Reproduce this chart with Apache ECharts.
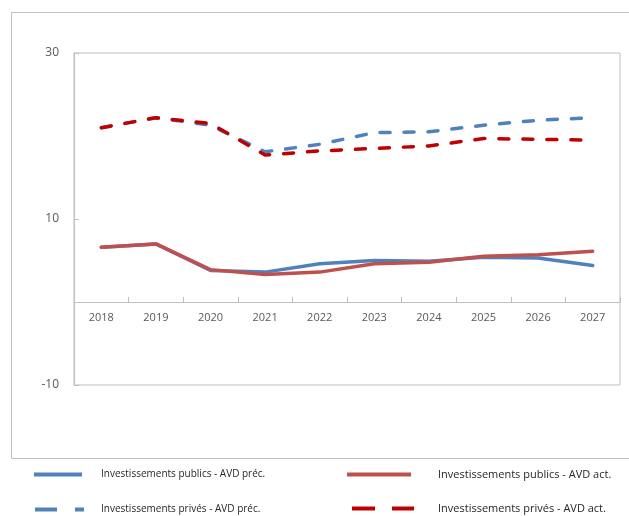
<!DOCTYPE html>
<html>
<head>
<meta charset="utf-8">
<script src="https://cdn.jsdelivr.net/npm/echarts@6/dist/echarts.min.js"></script>
<style>
  html, body { margin: 0; padding: 0; background: #fff; }
  #chart { width: 629px; height: 516px; }
</style>
</head>
<body>
<div id="chart"></div>
<script>
// Years on the horizontal axis
const years = ['2018', '2019', '2020', '2021', '2022', '2023', '2024', '2025', '2026', '2027'];

// Public investment, previous and current assessment
const publicPrev = [6.6, 7.0, 3.8, 3.6, 4.6, 5.0, 4.9, 5.4, 5.3, 4.4];
const publicCurr = [6.6, 7.0, 3.9, 3.3, 3.6, 4.6, 4.8, 5.5, 5.7, 6.1];

// Private investment, previous and current assessment
const privatePrev = [21.0, 22.2, 21.3, 18.1, 19.0, 20.4, 20.5, 21.3, 21.9, 22.2];
const privateCurr = [21.0, 22.2, 21.5, 17.7, 18.2, 18.5, 18.8, 19.7, 19.6, 19.5];

// Value axis range and step
const yMin = -10, yMax = 30, yStep = 20;

// Series names shown in the legend
const names = [
  'Investissements publics - AVD préc.',
  'Investissements privés - AVD préc.',
  'Investissements publics - AVD act.',
  'Investissements privés - AVD act.'
];

const BLUE = '#4F81BD';
const RED = '#C0504D';
const DARK_RED = '#C00000';
const GREY = '#BFBFBF';
const FONT = '"Open Sans", "Noto Sans", sans-serif';

const GRID = { left: 74, right: 9, top: 53, bottom: 131 };
const plotHeight = 516 - GRID.top - GRID.bottom;
// Category axis sits on the zero line of the value axis
const zeroShift = plotHeight * (0 - yMin) / (yMax - yMin);

const chart = echarts.init(document.getElementById('chart'), null, { renderer: 'canvas' });

function legendAt(name, left, top, width, fontSize, pad, dash) {
  const line = { width: 4, cap: 'butt' };
  if (dash) line.type = dash;
  return {
    data: [name],
    left: left,
    top: top,
    padding: 0,
    orient: 'horizontal',
    itemWidth: width,
    itemHeight: 14,
    selectedMode: false,
    itemStyle: { opacity: 0, borderWidth: 0 },
    lineStyle: line,
    textStyle: {
      fontFamily: FONT,
      fontSize: fontSize,
      color: '#262626',
      padding: [0, 0, 0, pad]
    }
  };
}

chart.setOption({
  animation: false,
  backgroundColor: '#fff',
  graphic: [{
    type: 'rect',
    shape: { x: 11.5, y: 12.5, width: 640, height: 446 },
    style: { fill: 'none', stroke: GREY, lineWidth: 1 },
    silent: true
  }],
  grid: Object.assign({ show: true, borderColor: GREY, borderWidth: 1 }, GRID),
  legend: [
    legendAt(names[0], 32, 469, 48, 10, 14),
    legendAt(names[1], 33, 504, 49, 10, 12, [22, 18]),
    legendAt(names[2], 345, 469, 64, 11, 22),
    legendAt(names[3], 350, 503, 62, 11, 19, [23, 17])
  ],
  xAxis: {
    type: 'category',
    data: years,
    boundaryGap: true,
    position: 'bottom',
    offset: -zeroShift,
    axisLine: { onZero: false, lineStyle: { color: GREY, width: 1 } },
    axisTick: { show: true, inside: true, length: 5, alignWithLabel: false, lineStyle: { color: GREY } },
    axisLabel: { color: '#595959', fontFamily: FONT, fontSize: 11, margin: 10 },
    splitLine: { show: false }
  },
  yAxis: {
    type: 'value',
    min: yMin, max: yMax, interval: yStep,
    axisLine: { show: true, lineStyle: { color: GREY, width: 1 } },
    axisTick: { show: true, inside: true, length: 5, lineStyle: { color: GREY } },
    axisLabel: { color: '#595959', fontFamily: FONT, fontSize: 12, margin: 15 },
    splitLine: { show: false }
  },
  series: [
    {
      name: names[0], type: 'line', data: publicPrev, symbol: 'none',
      lineStyle: { color: BLUE, width: 3.5, cap: 'round', join: 'round' },
      itemStyle: { color: BLUE }
    },
    {
      name: names[1], type: 'line', data: privatePrev, symbol: 'none',
      lineStyle: { color: BLUE, width: 3.5, type: [10, 14], cap: 'round', join: 'round' },
      itemStyle: { color: BLUE }
    },
    {
      name: names[2], type: 'line', data: publicCurr, symbol: 'none',
      lineStyle: { color: RED, width: 3.5, cap: 'round', join: 'round' },
      itemStyle: { color: RED }
    },
    {
      name: names[3], type: 'line', data: privateCurr, symbol: 'none',
      lineStyle: { color: DARK_RED, width: 3.5, type: [10, 14], cap: 'round', join: 'round' },
      itemStyle: { color: DARK_RED }
    }
  ]
});
</script>
</body>
</html>
